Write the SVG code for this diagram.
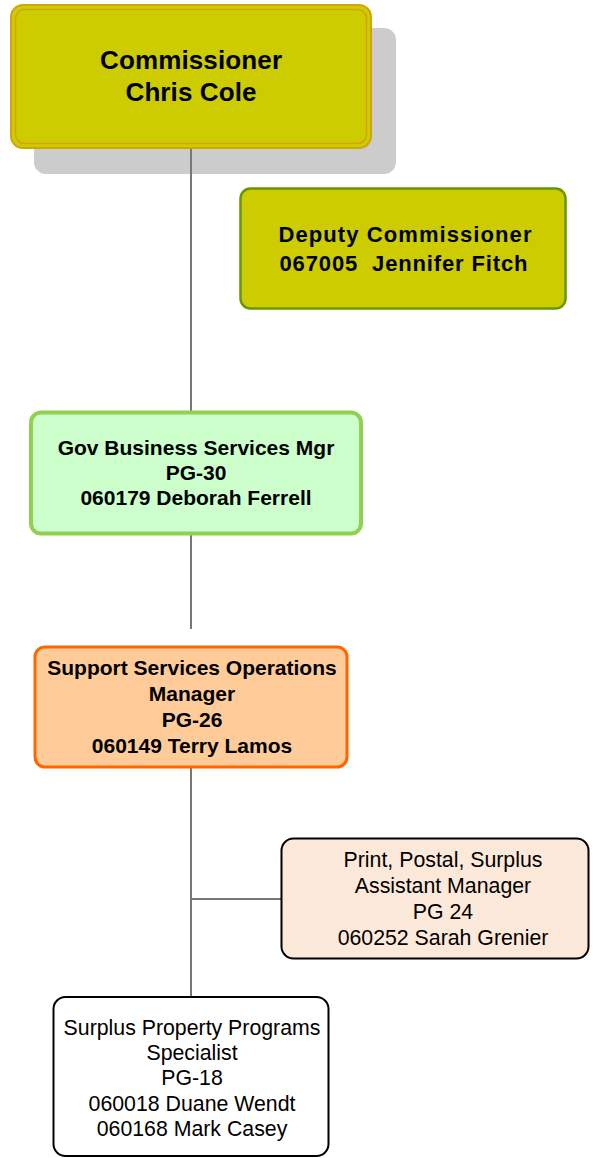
<svg xmlns="http://www.w3.org/2000/svg" width="593" height="1158" viewBox="0 0 593 1158">
<style>
.b{font-family:"Liberation Sans",Arial,sans-serif;font-weight:bold;font-size:21px;fill:#000;text-anchor:middle}
.r{font-family:"Liberation Sans",Arial,sans-serif;font-size:21.3px;fill:#000;text-anchor:middle}
.big{font-size:26px}
.dep{font-size:22px}
.conn{fill:none;stroke:#777;stroke-width:2}
</style>
<rect id="shadow" x="34" y="28" width="362" height="146" rx="12" fill="#CCCCCC"/>
<g id="connectors">
<path class="conn" d="M191 149 V412 M191 534 V629 M191 768 V997 M191 899 H281"/>
</g>
<g id="commissioner">
<rect x="11" y="5" width="360" height="143" rx="12" fill="#CCCC00" stroke="#D4A20A" stroke-width="2"/>
<rect x="15.5" y="9.5" width="351" height="134" rx="9" fill="none" stroke="#D4A20A" stroke-width="1.5"/>
<text class="b big" x="191" y="69" textLength="182" lengthAdjust="spacing">Commissioner</text>
<text class="b big" x="191" y="101" textLength="131" lengthAdjust="spacing">Chris Cole</text>
</g>
<g id="deputy">
<rect x="240.5" y="188.5" width="325" height="120" rx="10" fill="#CCCC00" stroke="#669900" stroke-width="2.5"/>
<text class="b dep" x="405" y="242" textLength="253" lengthAdjust="spacing">Deputy Commissioner</text>
<text class="b dep" x="403.5" y="271" textLength="248" lengthAdjust="spacing" xml:space="preserve">067005  Jennifer Fitch</text>
</g>
<g id="gov">
<rect x="31" y="412.5" width="330" height="121" rx="10" fill="#CCFFCC" stroke="#92D050" stroke-width="4"/>
<text class="b" x="196" y="455">Gov Business Services Mgr</text>
<text class="b" x="196" y="480">PG-30</text>
<text class="b" x="196" y="505">060179 Deborah Ferrell</text>
</g>
<g id="ssom">
<rect x="35" y="647" width="312" height="120" rx="10" fill="#FFCC99" stroke="#FF6600" stroke-width="3"/>
<text class="b" x="192" y="675">Support Services Operations</text>
<text class="b" x="192" y="701">Manager</text>
<text class="b" x="192" y="727">PG-26</text>
<text class="b" x="192" y="753">060149 Terry Lamos</text>
</g>
<g id="ppsam">
<rect x="281.5" y="838.5" width="307" height="120" rx="12" fill="#FDE9D9" stroke="#000" stroke-width="2"/>
<text class="r" x="443" y="867">Print, Postal, Surplus</text>
<text class="r" x="443" y="893">Assistant Manager</text>
<text class="r" x="443" y="919">PG 24</text>
<text class="r" x="443" y="945">060252 Sarah Grenier</text>
</g>
<g id="spps">
<rect x="53.5" y="997" width="275" height="159" rx="12" fill="#FFFFFF" stroke="#000" stroke-width="2"/>
<text class="r" x="192" y="1035">Surplus Property Programs</text>
<text class="r" x="192" y="1060">Specialist</text>
<text class="r" x="192" y="1085">PG-18</text>
<text class="r" x="192" y="1111">060018 Duane Wendt</text>
<text class="r" x="192" y="1136">060168 Mark Casey</text>
</g>
</svg>
